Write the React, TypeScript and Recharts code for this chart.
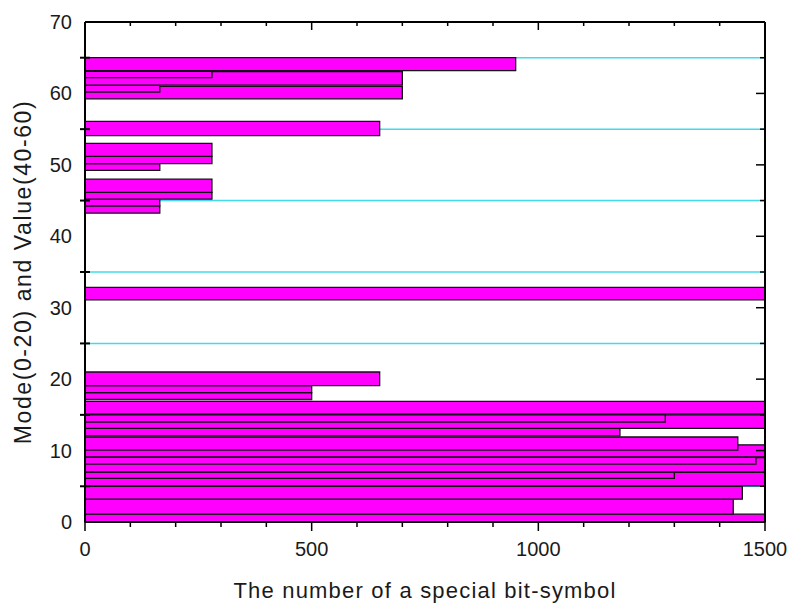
import React from 'react';
import { ComposedChart, XAxis, YAxis, CartesianGrid, ReferenceArea } from 'recharts';

// Bars (drawn in this order; later bars overlap earlier ones)
const barLow = [0, 1.1, 3.2, 5.05, 6.1, 7.0, 8.1, 9.1, 10.05, 12.05, 13.1, 14.0, 15.15, 17.15, 18.1, 19.1,
  31.1, 43.25, 44.27, 45.2, 46.14, 49.23, 50.17, 51.2, 54.1, 59.25, 60.2, 61.15, 62.2, 63.2];
const barHigh = [1.1, 3.2, 5.0, 6.95, 7.0, 9.0, 9.1, 10.8, 11.9, 13.1, 15.0, 15.0, 16.9, 18.1, 19.1, 21.0,
  32.85, 44.27, 45.2, 46.14, 48.0, 50.17, 51.2, 53.0, 56.1, 61.0, 61.15, 63.05, 63.1, 65.0];
const barValue = [1500, 1430, 1450, 1500, 1300, 1500, 1480, 1500, 1440, 1180, 1500, 1280, 1500, 500, 500, 650,
  1500, 165, 165, 280, 280, 165, 280, 280, 650, 700, 165, 700, 280, 950];

const xTicks = [0, 100, 200, 300, 400, 500, 600, 700, 800, 900, 1000, 1100, 1200, 1300, 1400, 1500];
const xMajor = [0, 500, 1000, 1500];
const yLabelTicks = [0, 10, 20, 30, 40, 50, 60, 70];
const yMinorTicks = [5, 15, 25, 35, 45, 55, 65];
const rightTicks = [5, 10, 15, 20, 25, 30, 35, 40, 45, 50, 55, 60, 65];
const gridValues = [5, 15, 25, 35, 45, 55, 65];
const xTitle = 'The number of a special bit-symbol';
const yTitle = 'Mode(0-20) and Value(40-60)';

const bars = barLow.map((lo, i) => ({ lo, hi: barHigh[i], value: barValue[i] }));

const FONT = 'Arial, "Liberation Sans", sans-serif';
const TEXT = '#1a1a1a';

const LeftTick = (props: any) => {
  const { x, y, payload } = props;
  const v = payload.value;
  if (yLabelTicks.includes(v)) {
    return (
      <text x={x - 13} y={y + 7} textAnchor="end" fontSize={20} fill={TEXT} fontFamily={FONT}>
        {v}
      </text>
    );
  }
  return <line x1={x - 5} x2={x + 5} y1={y} y2={y} stroke="#000" strokeWidth={2} />;
};

const RightTick = (props: any) => {
  const { x, y, payload } = props;
  const len = payload.value % 10 === 0 ? 9 : 5;
  return <line x1={x} x2={x - len} y1={y} y2={y} stroke="#000" strokeWidth={1.5} />;
};

const BottomTick = (props: any) => {
  const { x, y, payload } = props;
  const v = payload.value;
  const major = xMajor.includes(v);
  return (
    <g>
      <line x1={x} x2={x} y1={y} y2={y + (major ? 9 : 5)} stroke="#000" strokeWidth={1.5} />
      {major ? (
        <text x={x} y={y + 34} textAnchor="middle" fontSize={20} fill={TEXT} fontFamily={FONT}>
          {v}
        </text>
      ) : null}
    </g>
  );
};

const TopTick = (props: any) => {
  const { x, y, payload } = props;
  const major = xMajor.includes(payload.value);
  return <line x1={x} x2={x} y1={y} y2={y + (major ? 8 : 4)} stroke="#000" strokeWidth={1.5} />;
};

const XTitle = (props: any) => {
  const vb = props.viewBox || {};
  return (
    <text x={vb.x + vb.width / 2} y={vb.y + 68} textAnchor="middle" dominantBaseline="central"
      fontSize={22} letterSpacing={1.2} fill={TEXT} fontFamily={FONT}>
      {xTitle}
    </text>
  );
};

const YTitle = (props: any) => {
  const vb = props.viewBox || {};
  const cx = vb.x + 23;
  const cy = vb.y + vb.height / 2;
  return (
    <text x={cx} y={cy} textAnchor="middle" dominantBaseline="central" transform={`rotate(-90 ${cx} ${cy})`}
      fontSize={23} letterSpacing={1.6} fill={TEXT} fontFamily={FONT}>
      {yTitle}
    </text>
  );
};

export default function App() {
  return (
    <div style={{ position: 'absolute', left: 0, top: 0, width: 792, height: 604, background: '#fff' }}>
      <ComposedChart width={792} height={604} data={bars} margin={{ top: 22, right: 27, bottom: 0, left: 0 }}>
        <CartesianGrid vertical={false} horizontalValues={gridValues} stroke="#40dcea" strokeWidth={1.5} />
        {bars.map((b, i) => (
          <ReferenceArea key={i} x1={0} x2={b.value} y1={b.lo} y2={b.hi} fill="#ff00ff" fillOpacity={1}
            stroke="#111" strokeWidth={1.3} ifOverflow="visible" zIndex={50} />
        ))}
        <XAxis type="number" dataKey="value" domain={[0, 1500]} allowDataOverflow ticks={xTicks} interval={0}
          tickSize={0} tickMargin={0} tickLine={false} tick={BottomTick} height={82} zIndex={2500}
          axisLine={{ stroke: '#000', strokeWidth: 2 }} label={XTitle} />
        <XAxis xAxisId="top" orientation="top" mirror dataKey="value" type="number" domain={[0, 1500]} allowDataOverflow
          ticks={xTicks} interval={0} tickSize={0} tickMargin={0} tickLine={false} tick={TopTick} height={1} zIndex={2500}
          axisLine={{ stroke: '#000', strokeWidth: 2 }} />
        <YAxis type="number" dataKey="lo" domain={[0, 70]} allowDataOverflow ticks={[...yLabelTicks, ...yMinorTicks]}
          interval={0} tickSize={0} tickMargin={0} tickLine={false} tick={LeftTick} width={85} zIndex={2500}
          axisLine={{ stroke: '#000', strokeWidth: 2 }} label={YTitle} />
        <YAxis yAxisId="right" orientation="right" mirror dataKey="lo" type="number" domain={[0, 70]} allowDataOverflow
          ticks={rightTicks} interval={0} tickSize={0} tickMargin={0} tickLine={false} tick={RightTick} width={1} zIndex={2500}
          axisLine={{ stroke: '#000', strokeWidth: 2 }} />
      </ComposedChart>
    </div>
  );
}
